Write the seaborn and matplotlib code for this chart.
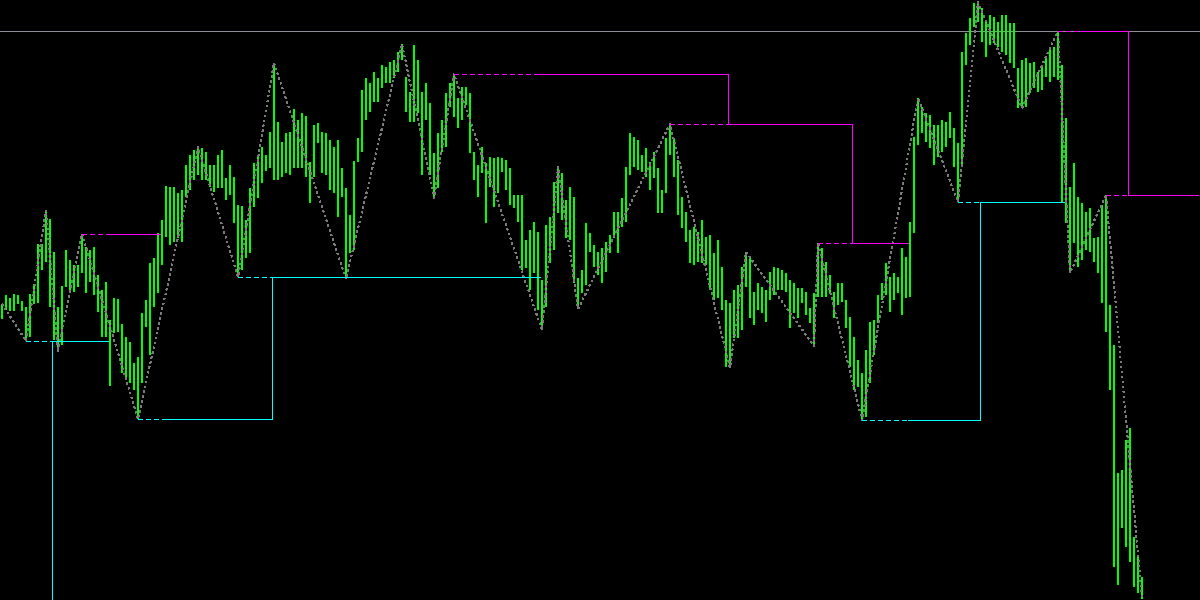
import numpy as np
import pandas as pd
import matplotlib
matplotlib.use("Agg")
import matplotlib.pyplot as plt
import seaborn as sns

# bar highs / lows in price points, one entry per bar (left to right)
high = [
    296, 305, 302, 306, 305, 299, 293, 306, 316, 356,
    356, 390, 381, 348, 293, 314, 350, 340, 335, 335,
    366, 353, 350, 353, 325, 310, 318, 280, 302, 301,
    276, 263, 258, 237, 243, 287, 300, 337, 342, 367,
    380, 414, 413, 413, 407, 410, 435, 445, 450, 453,
    452, 448, 435, 435, 445, 450, 422, 435, 423, 395,
    394, 380, 412, 437, 445, 453, 445, 468, 537, 478,
    458, 467, 468, 491, 480, 487, 484, 438, 475, 477,
    468, 467, 460, 453, 460, 432, 412, 385, 439, 462,
    510, 522, 517, 528, 522, 535, 533, 538, 540, 548,
    556, 523, 508, 555, 540, 508, 517, 497, 447, 467,
    480, 507, 517, 526, 502, 513, 513, 507, 448, 435,
    453, 437, 443, 442, 443, 442, 440, 432, 405, 405,
    405, 360, 370, 378, 368, 320, 375, 383, 418, 433,
    427, 400, 413, 403, 322, 330, 377, 367, 355, 348,
    352, 358, 365, 388, 388, 402, 433, 467, 463, 460,
    445, 452, 438, 448, 432, 410, 462, 476, 462, 440,
    403, 388, 370, 373, 368, 380, 363, 365, 347, 360,
    333, 300, 297, 310, 315, 333, 348, 343, 308, 317,
    313, 310, 328, 333, 332, 330, 327, 320, 317, 312,
    312, 308, 292, 307, 357, 352, 338, 325, 308, 317,
    317, 300, 283, 263, 240, 227, 250, 278, 280, 305,
    317, 337, 323, 327, 323, 352, 343, 378, 463, 502,
    493, 487, 485, 475, 475, 480, 478, 488, 472, 457,
    548, 567, 582, 597, 598, 592, 578, 585, 583, 578,
    585, 585, 577, 577, 532, 540, 542, 537, 538, 528,
    533, 542, 552, 553, 569, 535, 482, 413, 437, 403,
    397, 388, 392, 362, 363, 395, 405, 295, 255, 127,
    130, 160, 172, 63, 45, 23,
]
low = [
    281, 290, 289, 289, 296, 289, 259, 263, 296, 297,
    330, 338, 293, 260, 248, 255, 313, 308, 308, 313,
    327, 307, 318, 305, 288, 263, 263, 214, 267, 268,
    227, 223, 217, 210, 181, 217, 273, 245, 293, 307,
    335, 363, 355, 358, 362, 358, 403, 410, 420, 425,
    420, 420, 413, 408, 412, 412, 400, 405, 377, 323,
    330, 342, 347, 393, 402, 417, 429, 432, 420, 420,
    423, 427, 425, 432, 432, 432, 423, 397, 423, 457,
    427, 425, 410, 407, 383, 403, 321, 347, 350, 438,
    448, 480, 488, 498, 498, 512, 517, 517, 522, 528,
    540, 488, 478, 478, 487, 425, 480, 425, 402, 412,
    448, 453, 493, 483, 472, 480, 495, 447, 420, 403,
    427, 377, 413, 393, 407, 428, 410, 395, 392, 378,
    330, 332, 310, 327, 290, 270, 293, 337, 350, 387,
    380, 362, 360, 317, 291, 307, 315, 348, 333, 325,
    317, 328, 347, 362, 347, 373, 378, 425, 433, 430,
    428, 423, 410, 422, 387, 387, 407, 445, 423, 385,
    372, 358, 337, 335, 338, 337, 335, 310, 300, 302,
    290, 233, 232, 262, 262, 270, 313, 282, 275, 290,
    287, 278, 300, 305, 310, 310, 308, 272, 287, 282,
    297, 285, 277, 254, 303, 303, 303, 307, 282, 295,
    298, 272, 233, 210, 213, 180, 183, 217, 245, 277,
    300, 305, 288, 300, 307, 285, 302, 303, 367, 455,
    467, 458, 452, 435, 443, 448, 453, 462, 433, 398,
    435, 535, 555, 573, 578, 558, 543, 555, 557, 553,
    548, 545, 537, 532, 492, 492, 493, 507, 512, 508,
    510, 523, 518, 523, 520, 397, 377, 327, 357, 333,
    340, 350, 348, 338, 327, 297, 268, 210, 33, 15,
    72, 53, 38, 13, 7, 1,
]

# zigzag swing points (bar index, price)
zigzag_bar = [0, 6, 11, 14, 20, 34, 49, 59, 68, 86, 100, 108, 113, 135, 139,
              144, 167, 182, 186, 203, 204, 215, 229, 239, 244, 255, 264, 267,
              276, 285]
zigzag_price = [296, 259, 390, 248, 366, 181, 453, 323, 537, 321, 556, 402, 526,
                270, 433, 291, 476, 232, 348, 254, 357, 180, 502, 398, 598, 492,
                569, 327, 405, 1]

# support levels (cyan): bars where each level is active
support_first = [0, 13, 41, 68, 227, 245]
support_last = [12, 26, 67, 134, 244, 265]
support_level = [-47, 259, 181, 323, 180, 398]
support_swing = [None, 6, 34, 59, 215, 239]

# resistance levels (magenta)
resistance_first = [27, 134, 182, 213, 270, 282]
resistance_last = [39, 181, 212, 226, 281, 299]
resistance_level = [366, 526, 476, 357, 569, 405]
resistance_swing = [20, 113, 167, 204, 264, 276]

hline_level = 569
n_slots = 300

sns.set_theme(style="dark", rc={
    "axes.facecolor": "black",
    "figure.facecolor": "black",
    "lines.scale_dashes": False,
})

fig = plt.figure(figsize=(12, 6), dpi=100)
ax = fig.add_axes([0, 0, 1, 1])
ax.set_facecolor("black")

px = 0.72  # one pixel in points

bars = pd.DataFrame({"bar": np.arange(len(high)), "high": high, "low": low})

# horizontal reference line
ax.axhline(hline_level, color="#8e8e96", linewidth=px, antialiased=False, zorder=1)

# price bars
ax.vlines(bars["bar"], bars["low"], bars["high"], colors="#00ff00",
          linewidth=2 * px, antialiased=False, zorder=2)

# zigzag
sns.lineplot(x=zigzag_bar, y=zigzag_price, sort=False, estimator=None,
             color="#7a7a7a", linewidth=px, linestyle=(0, (1.4, 2.2)),
             antialiased=False, ax=ax, zorder=3)


def level_series(first, last, level):
    s = np.full(n_slots, np.nan)
    for a, b, v in zip(first, last, level):
        s[a:b + 1] = v
    return s


def draw_levels(first, last, level, swing, color):
    s = level_series(first, last, level)
    ax.plot(np.arange(n_slots), s, drawstyle="steps-mid", color=color,
            linewidth=px, antialiased=False, zorder=4)
    for a, v, sw in zip(first, level, swing):
        if sw is None:
            continue
        ax.hlines(v, sw, a - 0.5, colors=color, linewidth=px,
                  linestyles=[(0, (2.9, 2.2))], antialiased=False, zorder=4)


draw_levels(support_first, support_last, support_level, support_swing, "#00ffff")
draw_levels(resistance_first, resistance_last, resistance_level, resistance_swing, "#ff00ff")

ax.set_xlim(-0.5, n_slots - 0.5)
ax.set_ylim(0, 600)
ax.axis("off")

fig.savefig("out.png", dpi=100, facecolor="black")
